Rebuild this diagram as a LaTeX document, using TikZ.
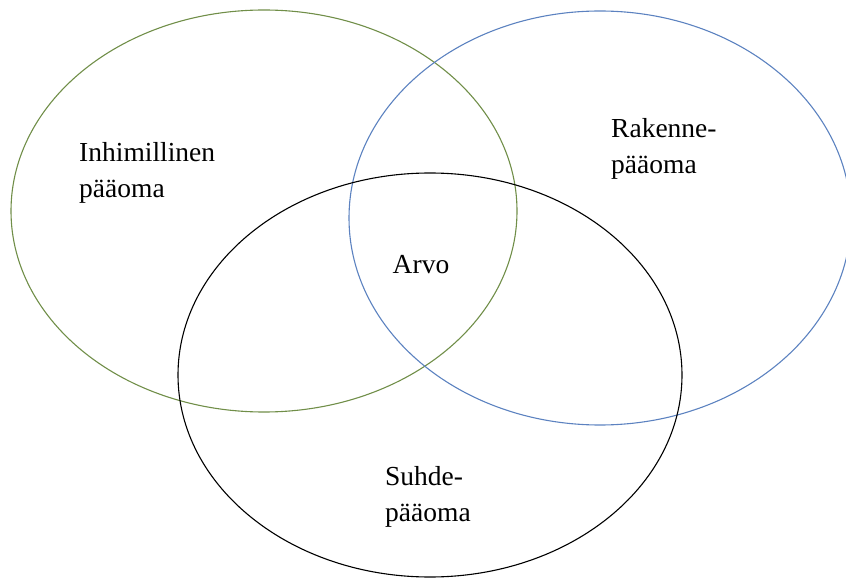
\documentclass[tikz,border=0pt]{standalone}
\usepackage{fontspec}
\setmainfont{Liberation Serif}
\usepackage{xcolor}
\usepackage{tikz}
\usetikzlibrary{positioning}
\definecolor{capgreen}{RGB}{112,142,72}
\definecolor{capblue}{RGB}{92,130,192}
\begin{document}
\begin{tikzpicture}[x=1pt, y=-1pt,
  font=\fontsize{27.5}{36}\selectfont,
  circ/.style={line width=1.1pt},
  lbl/.style={align=left, inner sep=0pt}]
\useasboundingbox (0,0) rectangle (846,585);
% the three capital circles
\draw[circ, capgreen] (264,211) ellipse [x radius=253, y radius=201];
\draw[circ, capblue] (600,218) ellipse [x radius=251, y radius=207];
\draw[circ, black] (430,375) ellipse [x radius=252, y radius=202];
% labels
\node[lbl, anchor=west] (human) at (79,173) {Inhimillinen\\pääoma};
\node[lbl, anchor=west] (struct) at (611,149) {Rakenne-\\pääoma};
\node[lbl] (value) at (421,265) {Arvo};
\node[lbl, anchor=west] (rel) at (385,497) {Suhde-\\pääoma};
\end{tikzpicture}
\end{document}
